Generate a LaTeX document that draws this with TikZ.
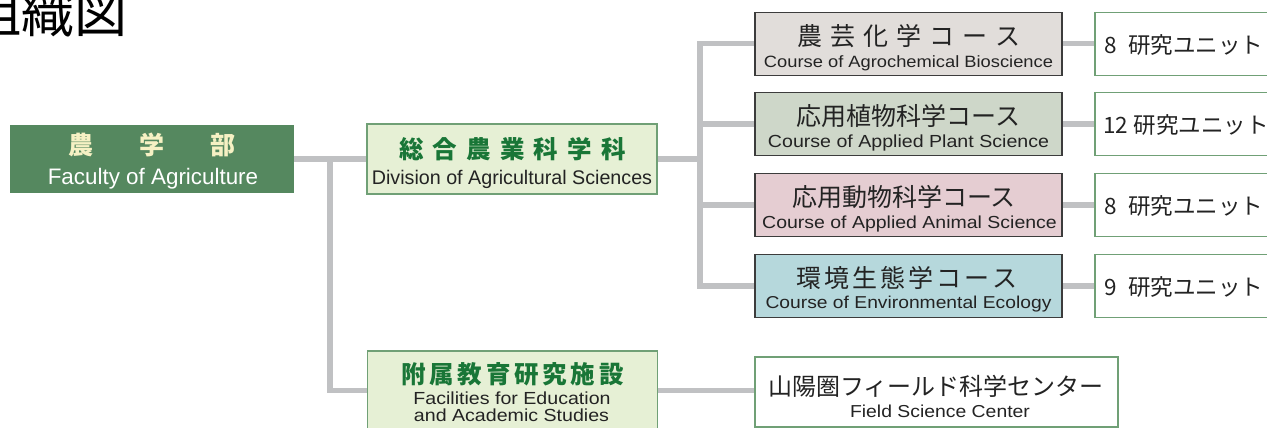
\documentclass[tikz,border=0pt]{standalone}
\usepackage{fontspec}
\newfontfamily\jp{Noto Sans CJK JP}
\newfontfamily\en{Liberation Sans}
\newfontfamily\enw{Liberation Sans}[FakeStretch=1.12]
\usetikzlibrary{backgrounds}
\makeatletter
\newcommand\spaced[2]{\def\sp@first{1}\@tfor\sp@c:=#2\do{\ifx\sp@first\@empty\hspace{#1}\fi\sp@c\let\sp@first\@empty}}
\makeatother
\newcommand\fs[1]{\fontsize{#1}{#1}\selectfont}
\definecolor{linegray}{RGB}{192,193,195}
\definecolor{facgreen}{RGB}{85,136,95}
\definecolor{cream}{RGB}{246,241,196}
\definecolor{divfill}{RGB}{230,240,213}
\definecolor{divborder}{RGB}{112,160,118}
\definecolor{jgreen}{RGB}{25,118,55}
\definecolor{cborder}{RGB}{60,60,60}
\definecolor{tdark}{RGB}{35,35,35}
\definecolor{cfillA}{RGB}{225,221,218}
\definecolor{cfillB}{RGB}{206,215,201}
\definecolor{cfillC}{RGB}{229,205,210}
\definecolor{cfillD}{RGB}{182,216,220}
\tikzset{
  conn/.style={draw=linegray, line width=5.5pt, line join=miter},
  boxbase/.style={inner sep=0pt, outer sep=0pt},
  facbox/.style={boxbase, fill=facgreen, minimum width=284pt, minimum height=68pt},
  divbox/.style={boxbase, fill=divfill, draw=divborder, line width=1.2pt, minimum width=290pt},
  coursebox/.style={boxbase, draw=cborder, line width=1.3pt, minimum width=307pt, minimum height=63pt},
  unitbox/.style={boxbase, fill=white, draw=divborder, line width=1.2pt, minimum width=185pt, minimum height=63pt},
  txt/.style={inner sep=0pt, outer sep=0pt, anchor=base, text=tdark},
  utxt/.style={txt, anchor=base west, font=\jp\fs{22.5}},
  cjp/.style={txt, font=\jp\fs{25}},
}
\begin{document}
\begin{tikzpicture}[x=1pt,y=-1pt]
\useasboundingbox (0,0) rectangle (1267,428);
% title
\node[txt, anchor=base east, font=\jp\fs{53}, text=black] (title) at (128,33) {組織図};
% faculty
\node[facbox] (fac) at (152,159) {};
\node[txt, font=\jp\bfseries\fs{25}, text=cream] (facj) at (151.5,154) {農\hspace{46pt}学\hspace{46pt}部};
\node[txt, font=\en\fs{22.4}, text=white] (face) at (153,184) {Faculty of Agriculture};
% division
\node[divbox, minimum height=70pt] (div) at (512,159) {};
\node[txt, font=\jp\bfseries\fs{24.5}, text=jgreen] (divj) at (512.5,158.5) {\spaced{9.2pt}{総合農業科学科}};
\node[txt, font=\en\fs{19.7}] (dive) at (512,184) {Division of Agricultural Sciences};
% facilities
\node[divbox, minimum height=79pt] (fcl) at (512.5,390.5) {};
\node[txt, font=\jp\bfseries\fs{24.5}, text=jgreen] (fclj) at (512.5,383.5) {\spaced{3.8pt}{附属教育研究施設}};
\node[txt, font=\enw\fs{17.5}] (fcle) at (512,404) {Facilities for Education};
\node[txt, font=\enw\fs{17.5}] (fcle2) at (511.5,421.7) {and Academic Studies};
% courses
\node[coursebox, fill=cfillA] (c1) at (908.5,43.7) {};
\node[coursebox, fill=cfillB] (c2) at (908.5,124) {};
\node[coursebox, fill=cfillC] (c3) at (908.5,205) {};
\node[coursebox, fill=cfillD] (c4) at (908.5,285.8) {};
\node[cjp] (c1j) at (908.5,45.3) {\spaced{8pt}{農芸化学コース}};
\node[txt, font=\enw\fs{16.35}] (c1e) at (908.5,67) {Course of Agrochemical Bioscience};
\node[cjp] (c2j) at (908.5,125.5) {応用植物科学コース};
\node[txt, font=\enw\fs{17.5}] (c2e) at (908.5,147.3) {Course of Applied Plant Science};
\node[cjp] (c3j) at (904,206.5) {応用動物科学コース};
\node[txt, font=\enw\fs{17.4}] (c3e) at (909.5,228.8) {Course of Applied Animal Science};
\node[cjp] (c4j) at (907,287) {\spaced{2.9pt}{環境生態学コース}};
\node[txt, font=\enw\fs{17.2}] (c4e) at (908.5,308) {Course of Environmental Ecology};
% units
\node[unitbox] (u1) at (1187.5,43.7) {};
\node[unitbox] (u2) at (1187.5,124) {};
\node[unitbox] (u3) at (1187.5,205) {};
\node[unitbox] (u4) at (1187.5,285.8) {};
\node[utxt] (u1t) at (1104,53.4) {8\hspace{12pt}研究ユニット};
\node[utxt] (u2t) at (1103,133.7) {12\hspace{6pt}研究ユニット};
\node[utxt] (u3t) at (1104,214.7) {8\hspace{12pt}研究ユニット};
\node[utxt] (u4t) at (1104,295.5) {9\hspace{12pt}研究ユニット};
% field science center
\node[unitbox, minimum width=363pt, minimum height=70pt] (fsc) at (936.5,392) {};
\node[txt, font=\jp\fs{24}] (fscj) at (936,395) {山陽圏フィールド科学センター};
\node[txt, font=\enw\fs{17.3}] (fsce) at (940,417.3) {Field Science Center};
% connectors
\begin{scope}[on background layer]
\coordinate (j1) at (330,159);
\coordinate (j2) at (700,159);
\draw[conn] (fac.east) -- (div.west);
\draw[conn] (j1) |- (fcl.west);
\draw[conn] (fcl.east) -- (fsc.west |- fcl.east);
\draw[conn] (div.east) -- (j2);
\draw[conn] (c1.west) -| (j2) |- (c4.west);
\draw[conn] (j2 |- c2.west) -- (c2.west);
\draw[conn] (j2 |- c3.west) -- (c3.west);
\draw[conn] (c1.east) -- (u1.west);
\draw[conn] (c2.east) -- (u2.west);
\draw[conn] (c3.east) -- (u3.west);
\draw[conn] (c4.east) -- (u4.west);
\end{scope}
\end{tikzpicture}
\end{document}
